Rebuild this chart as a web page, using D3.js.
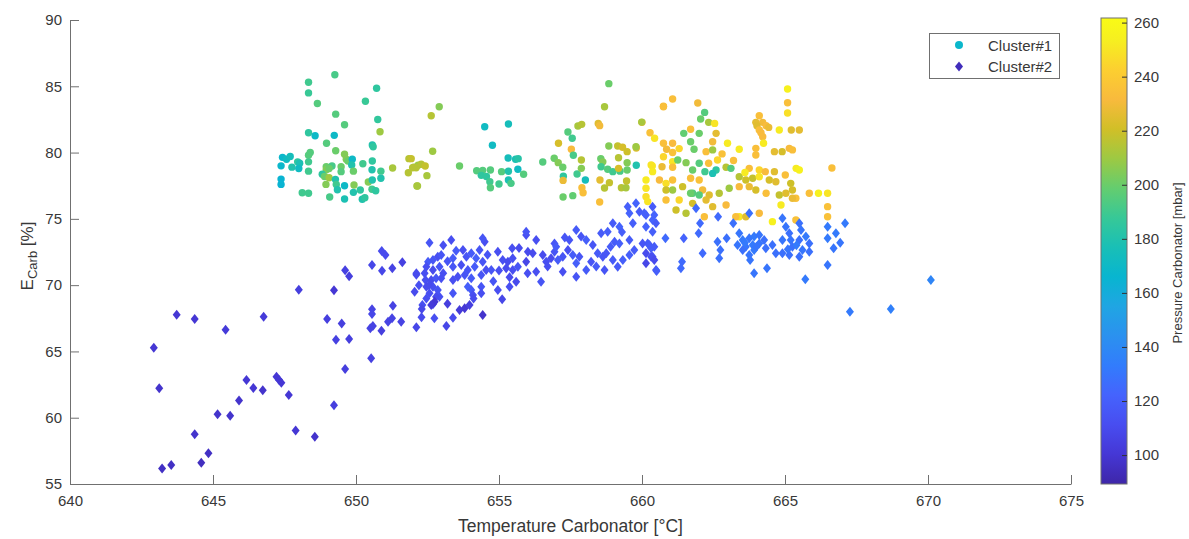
<!DOCTYPE html>
<html>
<head>
<meta charset="utf-8">
<script src="https://cdn.jsdelivr.net/npm/d3@7"></script>
<style>
  body { margin: 0; background: #fff; }
  svg text { font-family: "Liberation Sans", Arial, Helvetica, sans-serif; }
</style>
</head>
<body>
<svg id="chart" width="1189" height="539"></svg>
<script>
// [temperature °C, E_carb %, pressure mbar]
var cluster1 = [
  [649.26,85.87,192],[648.34,85.3,190],[648.34,84.5,188],[650.72,84.85,185],[648.65,83.7,195],[650.33,83.87,188],
  [649.29,82.9,195],[650.76,82.5,186],[649.6,82.1,195],[650.84,81.57,210],[648.34,81.5,185],[648.57,81.27,170],
  [649.24,81.3,170],[648.97,80.7,195],[650.57,80.57,180],[650.6,80.44,185],[649.29,80.14,200],[648.4,80.0,195],
  [648.34,79.8,195],[647.43,79.64,168],[647.57,79.5,172],[647.7,79.7,175],[647.96,79.3,185],[648.03,79.2,178],
  [649.6,79.87,205],[649.66,79.5,205],[649.72,79.36,200],[649.87,79.5,170],[648.34,79.3,190],[650.24,79.16,190],
  [650.57,79.36,185],[647.38,79.0,168],[647.76,78.9,180],[648.0,78.8,172],[648.96,78.93,200],[649.16,78.99,192],
  [649.48,78.93,200],[649.85,79.06,180],[648.96,78.7,205],[649.06,78.8,200],[648.34,78.6,190],[649.48,78.56,195],
  [649.91,78.6,200],[650.56,78.7,180],[650.87,78.6,190],[650.87,78.06,180],[651.28,78.84,212],[648.82,78.36,185],
  [648.9,78.2,200],[649.06,78.1,210],[649.28,77.98,180],[647.38,78.0,165],[647.38,77.6,165],[648.95,77.6,205],
  [649.31,77.6,190],[649.35,77.2,180],[649.6,77.5,170],[649.93,77.55,205],[650.43,77.78,205],[650.57,77.93,180],
  [649.91,77.0,180],[650.15,77.18,185],[650.56,77.23,190],[650.69,77.12,185],[648.12,76.97,190],[648.34,76.93,190],
  [649.08,76.65,192],[649.6,76.5,178],[650.22,76.48,180],[650.31,76.6,185],
  [651.85,79.54,215],[652.02,78.9,212],[652.17,79.04,210],[651.83,78.48,215],[652.13,77.48,212],[652.91,83.46,205],
  [652.63,82.78,215],[652.68,80.1,210],[651.93,79.54,218],[652.1,78.86,215],[652.28,79.12,215],[652.42,78.99,218],
  [651.98,78.86,215],[652.48,78.26,212],[652.15,77.48,212],[653.62,78.99,200],
  [654.5,81.95,172],[655.33,82.16,175],[654.77,80.55,172],[654.22,78.63,195],[654.43,78.66,195],[654.7,78.68,195],
  [654.38,78.28,185],[654.56,78.2,185],[654.68,77.8,190],[654.7,77.35,195],[655.09,78.56,195],[655.32,79.59,175],
  [655.58,79.5,178],[655.67,79.54,182],[655.66,78.74,172],[655.33,78.59,180],[655.86,78.36,195],[655.33,77.93,178],
  [655.42,77.68,192],[655.0,77.63,190],
  [656.53,79.29,195],[656.93,79.57,200],[657.07,79.24,205],[657.23,78.89,200],[657.25,78.21,185],[657.24,77.9,228],
  [657.24,76.65,200],[657.08,80.7,222],[657.41,81.55,195],[657.56,81.08,190],[657.53,80.25,232],[657.6,79.8,192],
  [657.73,78.38,190],[657.88,79.44,215],[657.88,78.81,205],[658.02,77.93,175],[657.76,82.0,212],[657.89,82.13,215],
  [657.58,76.75,198],[657.9,77.35,234],[657.94,76.97,234],[658.47,82.2,225],[658.52,82.03,230],[658.84,80.5,205],
  [658.56,79.54,200],[658.63,79.3,205],[658.57,78.93,190],[658.8,78.74,195],[658.98,78.56,190],[659.23,78.6,192],
  [658.53,77.93,226],[658.69,77.33,215],[658.86,77.73,218],[658.52,76.27,234],[659.15,80.5,218],[659.32,80.4,222],
  [659.48,80.07,220],[659.18,79.61,215],[659.18,78.81,222],[659.48,79.24,205],[659.48,78.68,200],[659.28,77.35,215],
  [659.44,77.35,212],[659.46,77.85,218],[659.8,80.34,225],[659.8,79.04,180],[660.0,82.28,232],[660.28,81.5,235],
  [660.44,81.08,250],[660.75,83.46,234],[660.36,78.99,252],[658.84,85.2,200],[658.69,83.46,212],[659.99,82.3,212],
  [660.32,79.06,250],[660.37,78.56,252],[660.14,77.93,252],[660.14,77.31,250],[660.14,76.67,248],[660.2,76.3,250],
  [659.79,80.44,210],
  [661.07,84.04,234],[660.75,83.5,234],[661.95,83.74,230],[665.09,84.8,255],[665.09,83.76,234],[665.09,82.98,248],
  [662.19,83.03,195],[662.05,82.53,200],[662.33,82.28,212],[662.54,82.2,250],[664.1,82.78,234],[663.98,82.28,226],
  [664.22,82.28,230],[664.34,82.03,232],[664.02,82.03,225],[664.1,81.7,234],[664.43,81.9,228],[664.8,81.7,252],
  [665.22,81.7,225],[665.5,81.7,226],[661.46,81.45,198],[662.0,81.45,200],[662.59,81.45,226],[661.7,81.76,234],
  [664.16,81.5,232],[661.7,80.82,200],[661.82,80.25,200],[662.47,80.82,230],[662.99,80.7,252],[663.4,80.25,252],
  [664.22,81.2,232],[664.25,80.7,252],[663.98,80.32,234],[663.98,79.82,234],[662.24,80.07,234],[662.47,80.2,210],
  [664.63,80.07,226],[664.9,80.07,222],[665.15,80.32,232],[665.26,80.2,234],[660.75,80.7,234],[661.07,80.7,232],
  [660.86,80.25,230],[661.07,80.0,235],[660.75,79.69,245],[661.07,79.31,250],[660.7,78.93,228],[661.07,78.89,234],
  [661.54,79.24,205],[661.25,79.44,200],[662.0,79.19,195],[662.33,79.19,234],[662.64,79.44,245],[662.94,78.89,215],
  [663.11,78.81,195],[662.59,78.68,185],[662.47,78.43,178],[662.2,78.56,190],[661.77,78.68,200],[661.7,78.06,234],
  [662.0,77.93,235],[663.75,78.81,234],[664.1,78.68,245],[664.31,78.56,232],[664.63,78.56,225],[665.01,78.31,234],
  [665.39,78.81,252],[665.5,78.68,255],[660.61,77.93,232],[660.84,77.68,248],[661.07,77.93,235],[663.4,78.18,215],
  [663.63,77.93,220],[663.87,78.06,218],[664.1,78.18,250],[664.45,77.93,222],[664.68,77.8,225],[665.2,77.68,220],
  [660.84,77.18,220],[661.07,77.18,210],[661.42,77.43,220],[661.77,76.93,195],[662.12,77.18,230],[662.35,76.8,225],
  [662.7,76.93,215],[663.05,77.31,210],[663.4,77.43,232],[663.75,77.43,228],[663.98,77.18,222],[664.34,76.93,234],
  [664.8,76.8,218],[665.03,76.93,225],[665.26,77.18,222],[665.38,76.55,235],[665.85,76.93,234],[666.17,76.93,255],
  [666.49,76.93,250],[666.64,78.84,234],[666.49,75.92,235],[666.49,75.16,235],[660.84,76.42,235],[661.3,76.42,245],
  [661.77,76.17,222],[662.24,76.42,226],[662.47,75.92,225],[662.94,76.05,232],[663.4,75.16,250],[663.63,75.16,225],
  [664.1,75.42,232],[664.56,74.79,255],[664.86,76.05,252],[665.26,76.55,228],[665.38,74.91,235],[661.19,75.67,220],
  [661.54,75.42,215],[662.18,75.16,234],[663.28,75.16,234],[661.7,76.93,200],[662.0,76.8,195],[663.6,78.5,252],
  [662.8,79.9,235],[661.3,80.3,245],[663.2,79.4,234]
];

var cluster2 = [
  [642.93,65.28,100],[643.12,62.22,98],[643.73,67.77,100],[644.36,67.45,100],[645.44,66.64,102],[646.77,67.62,102],
  [648.0,69.66,104],[649.23,69.61,100],[649.62,71.12,105],[649.76,70.67,104],[648.99,67.45,104],[649.5,67.1,104],
  [649.3,65.88,105],[649.76,65.94,104],[649.62,63.67,104],[649.23,60.94,104],[650.53,64.49,105],[650.56,71.52,108],
  [650.9,72.57,110],[651.03,72.27,110],[650.91,71.09,108],[651.27,71.27,106],[651.62,71.72,105],[652.11,70.79,110],
  [650.56,68.18,106],[650.56,67.82,108],[650.5,66.74,106],[650.59,66.92,106],[650.89,66.56,104],[651.29,68.45,106],
  [651.12,67.24,106],[651.26,67.5,106],[651.58,67.24,106],[652.11,66.82,108],[646.17,62.84,100],[646.41,62.24,100],
  [646.74,62.07,98],[647.22,63.09,100],[647.31,62.84,100],[647.39,62.64,100],[647.65,61.71,100],[645.91,61.3,98],
  [645.16,60.26,98],[645.6,60.15,98],[644.36,58.75,98],[647.89,59.03,100],[648.56,58.57,98],[644.84,57.32,96],
  [644.59,56.61,95],[643.22,56.16,96],[643.54,56.43,96],
  [652.29,67.57,110],[652.74,67.5,112],[653.16,66.92,108],[653.39,67.54,110],[652.32,68.5,112],[652.69,68.56,110],
  [652.92,69.13,112],[652.57,73.2,115],[653.33,73.4,112],[652.11,70.89,110],[652.4,70.89,112],[652.52,71.77,118],
  [652.69,71.9,115],[652.86,72.15,112],[652.98,72.27,115],[652.46,71.39,112],[652.69,71.14,110],[652.92,71.39,115],
  [652.43,70.39,112],[652.63,70.39,110],[652.8,70.52,115],[652.98,70.52,112],[652.46,69.88,110],[652.69,69.88,112],
  [652.86,69.63,114],[652.57,69.38,112],[652.8,69.13,110],[652.46,69.0,112],[652.75,68.75,100],[652.63,68.5,102],
  [653.39,72.02,118],[653.39,71.39,115],[653.39,70.39,112],[653.39,69.38,115],[653.74,72.65,112],[653.86,72.15,115],
  [654.03,72.4,118],[654.2,72.02,120],[654.43,71.77,115],[653.68,71.52,112],[653.91,71.14,115],[654.15,71.39,118],
  [653.56,70.64,112],[653.8,70.77,115],[654.03,70.52,118],[654.38,70.77,115],[654.55,71.14,112],[654.73,71.14,115],
  [653.91,69.88,120],[654.03,69.63,118],[654.38,69.88,115],[654.09,69.25,112],[653.62,68.13,102],[653.8,68.25,100],
  [653.97,68.5,104],[654.43,67.75,98],[654.32,72.65,115],[654.5,73.28,112],[654.43,73.53,115],[654.38,69.38,112],
  [654.11,69.0,110],[654.96,72.52,112],[654.96,69.63,112],[655.11,68.93,108],[655.37,70.59,110],[655.37,69.88,112],
  [655.6,70.26,110],[655.13,71.9,112],[655.31,71.77,110],[655.48,72.02,112],[655.66,71.39,115],[655.48,71.14,112],
  [655.25,71.27,110],[655.46,72.78,112],[655.95,73.78,112],[656.01,72.52,110],[655.95,71.77,108],[656.18,72.4,110],
  [656.3,73.4,112],[656.3,71.01,112],[656.47,70.26,115],[656.53,72.27,110],[656.65,71.77,112],[656.82,72.02,110],
  [656.94,73.15,115],[656.94,72.52,115],[657.06,71.9,118],[657.23,72.15,115],[657.41,72.65,112],[657.46,73.4,115],
  [657.58,72.27,118],[657.7,71.65,120],[657.81,72.15,115],[657.23,71.01,112],[657.7,70.64,115],[658.05,71.14,118],
  [658.22,71.77,115],[658.45,72.4,118],[658.63,72.15,115],[657.7,74.16,118],[657.87,73.66,115],[658.05,73.4,120],
  [658.28,73.03,115],[658.57,73.91,118],[658.8,74.03,120],[658.98,74.66,118],[659.21,74.41,122],[659.04,73.28,118],
  [659.21,73.15,120],[659.56,73.4,118],[659.68,74.66,120],[659.56,75.42,122],[659.91,75.54,118],[660.14,75.29,120],
  [660.37,74.91,122],[660.14,74.41,122],[660.2,73.15,118],[660.32,72.78,120],[660.37,72.15,115],[660.49,71.14,118],
  [659.73,72.65,118],[659.56,72.27,120],[658.75,72.4,115],[658.98,71.9,118],[658.69,71.14,115],[659.15,71.39,118],
  [659.33,71.9,120],[659.5,75.92,120],[659.79,76.17,122],[655.95,74.03,115],
  [652.2,70.0,112],[652.55,70.0,110],[653.05,70.9,112],[653.2,71.8,115],[653.5,72.6,118],[654.6,72.3,115],
  [654.8,70.3,115],[655.0,71.1,112],[655.7,72.8,110],[656.0,70.9,112],[656.7,71.4,112],[657.0,72.9,118],
  [657.3,73.6,115],[658.4,71.4,118],[658.9,72.9,118],[659.3,74.0,120],[653.2,68.6,104],[652.3,68.2,108],
  [652.05,69.5,110],[653.05,73.0,112],
  [660.08,75.42,120],[660.37,75.92,118],[660.43,75.29,122],[660.49,74.66,118],[660.37,74.03,120],[660.02,73.15,115],
  [660.26,73.03,118],[660.43,72.9,118],[660.14,72.4,110],[660.32,72.15,112],[660.14,71.65,108],[660.43,71.9,110],
  [660.51,71.07,120],[660.82,73.53,125],[661.46,73.53,122],[661.4,71.77,125],[661.36,71.27,125],[661.89,75.8,125],
  [661.98,73.91,125],[662.03,74.66,125],[662.12,72.4,125],[662.66,75.16,125],[662.64,73.28,128],[662.74,72.65,128],
  [662.7,72.02,128],[662.96,73.53,128],[663.19,74.66,128],[663.75,75.42,128],[663.4,73.91,130],[663.52,73.4,132],
  [663.63,72.9,130],[663.75,73.53,130],[663.92,73.66,132],[664.1,73.78,130],[664.27,73.4,128],[663.87,73.03,132],
  [663.34,73.03,130],[663.52,72.65,128],[663.75,72.27,130],[663.92,72.65,132],[664.1,73.15,130],[664.33,72.78,128],
  [663.92,70.89,130],[664.37,71.27,130],[663.78,71.9,130],[664.56,73.03,128],[664.68,72.4,128],[664.91,75.04,130],
  [665.03,74.41,130],[665.15,73.91,128],[664.91,73.4,130],[665.2,73.4,130],[665.26,72.9,128],[665.5,74.66,128],
  [665.56,74.16,130],[665.5,73.4,128],[665.73,73.66,132],[665.85,73.15,128],[665.61,72.65,130],[665.5,72.15,128],
  [665.85,72.52,128],[665.15,72.27,128],[664.91,72.4,128],[665.71,70.44,132],[666.49,74.41,132],[666.49,73.53,132],
  [666.49,71.52,130],[666.78,73.91,132],[666.93,73.2,130],[666.7,72.78,130],[667.1,74.66,132],[667.27,68.0,132],
  [668.7,68.2,135],[670.1,70.39,138],[665.1,72.7,130],[665.4,73.0,132],[663.6,73.2,132],[664.0,72.9,130]
];

var xTicks = [640, 645, 650, 655, 660, 665, 670, 675];
var yTicks = [55, 60, 65, 70, 75, 80, 85, 90];
var cTicks = [100, 120, 140, 160, 180, 200, 220, 240, 260];
var legendLabels = ["Cluster#1", "Cluster#2"];

// parula colormap (sampled)
var parula = [
  [0.2422,0.1504,0.6603],[0.2706,0.2147,0.8364],[0.2813,0.3006,0.9414],[0.2699,0.3892,0.9906],
  [0.1963,0.4847,0.9892],[0.1687,0.5703,0.9359],[0.1248,0.6459,0.8883],[0.0297,0.7082,0.8163],
  [0.0964,0.7500,0.7120],[0.2161,0.7843,0.5923],[0.3909,0.8029,0.4354],[0.6174,0.7876,0.2612],
  [0.8203,0.7498,0.1535],[0.9728,0.7298,0.2394],[0.9892,0.8136,0.1885],[0.9628,0.9373,0.1265],
  [0.9769,0.9839,0.0805]
];
var parulaPos = [0,4,8,12,16,20,24,28,32,36,40,44,48,52,56,60,63].map(function(i){ return i/63; });

var pMin = 89.3, pMax = 261.7;
var colorT = d3.scaleLinear().domain(parulaPos)
  .range(parula.map(function(c){ return d3.rgb(c[0]*255, c[1]*255, c[2]*255).formatHex(); }))
  .clamp(true);
function color(p){ return colorT((p - pMin) / (pMax - pMin)); }

var svg = d3.select("#chart");
var plotL = 70, plotR = 1071, plotT = 20, plotB = 484;

var x = d3.scaleLinear().domain([640, 675]).range([plotL, plotR]);
var y = d3.scaleLinear().domain([55, 90]).range([plotB, plotT]);

var axisColor = "#707070", textColor = "#383838";

// points
svg.append("g").selectAll("circle").data(cluster1).enter().append("circle")
  .attr("cx", function(d){ return x(d[0]); })
  .attr("cy", function(d){ return y(d[1]); })
  .attr("r", 3.7)
  .attr("fill", function(d){ return color(d[2]); });

var diamond = "M0,-5L4,0L0,5L-4,0Z";
svg.append("g").selectAll("path").data(cluster2).enter().append("path")
  .attr("d", diamond)
  .attr("transform", function(d){ return "translate(" + x(d[0]) + "," + y(d[1]) + ")"; })
  .attr("fill", function(d){ return color(d[2]); });

// axes
var xAxis = svg.append("g").attr("transform", "translate(0," + plotB + ")")
  .call(d3.axisBottom(x).tickValues(xTicks).tickSize(-9).tickSizeOuter(0).tickPadding(11));
var yAxis = svg.append("g").attr("transform", "translate(" + plotL + ",0)")
  .call(d3.axisLeft(y).tickValues(yTicks).tickSize(-9).tickSizeOuter(0).tickPadding(8));

[xAxis, yAxis].forEach(function(a){
  a.select(".domain").attr("stroke", axisColor);
  a.selectAll(".tick line").attr("stroke", axisColor);
  a.selectAll(".tick text").attr("fill", textColor).style("font-size", "15px")
    .style("font-family", "'Liberation Sans', Arial, sans-serif");
});

svg.append("text")
  .attr("x", (plotL + plotR) / 2).attr("y", 532)
  .attr("text-anchor", "middle").attr("fill", textColor)
  .style("font-size", "17.5px")
  .text("Temperature Carbonator [°C]");

var yl = svg.append("text")
  .attr("transform", "translate(33,256) rotate(-90)")
  .attr("text-anchor", "middle").attr("fill", textColor)
  .style("font-size", "17px");
yl.append("tspan").text("E");
yl.append("tspan").attr("dy", 4).style("font-size", "13px").text("Carb");
yl.append("tspan").attr("dy", -4).text(" [%]");

// colorbar
var cbX = 1101, cbW = 26, cbTop = 18, cbBottom = 484;
var defs = svg.append("defs");
var grad = defs.append("linearGradient").attr("id", "cbgrad")
  .attr("x1", 0).attr("y1", 1).attr("x2", 0).attr("y2", 0);
parulaPos.forEach(function(t){
  grad.append("stop").attr("offset", t).attr("stop-color", colorT(t));
});
svg.append("rect").attr("x", cbX).attr("y", cbTop).attr("width", cbW).attr("height", cbBottom - cbTop)
  .attr("fill", "url(#cbgrad)").attr("stroke", axisColor).attr("stroke-width", 1);

var cScale = d3.scaleLinear().domain([pMin, pMax]).range([cbBottom, cbTop]);
var cAxis = svg.append("g").attr("transform", "translate(" + (cbX + cbW) + ",0)")
  .call(d3.axisRight(cScale).tickValues(cTicks).tickSize(-5).tickSizeOuter(0).tickPadding(7));
cAxis.select(".domain").remove();
cAxis.selectAll(".tick line").attr("stroke", "#333");
cAxis.selectAll(".tick text").attr("fill", textColor).style("font-size", "15px")
  .style("font-family", "'Liberation Sans', Arial, sans-serif");

svg.append("text")
  .attr("transform", "translate(1182,263) rotate(-90)")
  .attr("text-anchor", "middle").attr("fill", textColor)
  .style("font-size", "13px")
  .text("Pressure Carbonator [mbar]");

// legend
var lg = svg.append("g");
lg.append("rect").attr("x", 929.5).attr("y", 33.5).attr("width", 130).attr("height", 45)
  .attr("fill", "#fff").attr("stroke", axisColor);
lg.append("circle").attr("cx", 959).attr("cy", 45).attr("r", 4).attr("fill", color(168));
lg.append("path").attr("d", diamond).attr("transform", "translate(959,66.5)").attr("fill", color(94));
legendLabels.forEach(function(t, i){
  lg.append("text").attr("x", 988).attr("y", 50.5 + i * 21.5).attr("fill", textColor)
    .style("font-size", "15px").text(t);
});
</script>
</body>
</html>
